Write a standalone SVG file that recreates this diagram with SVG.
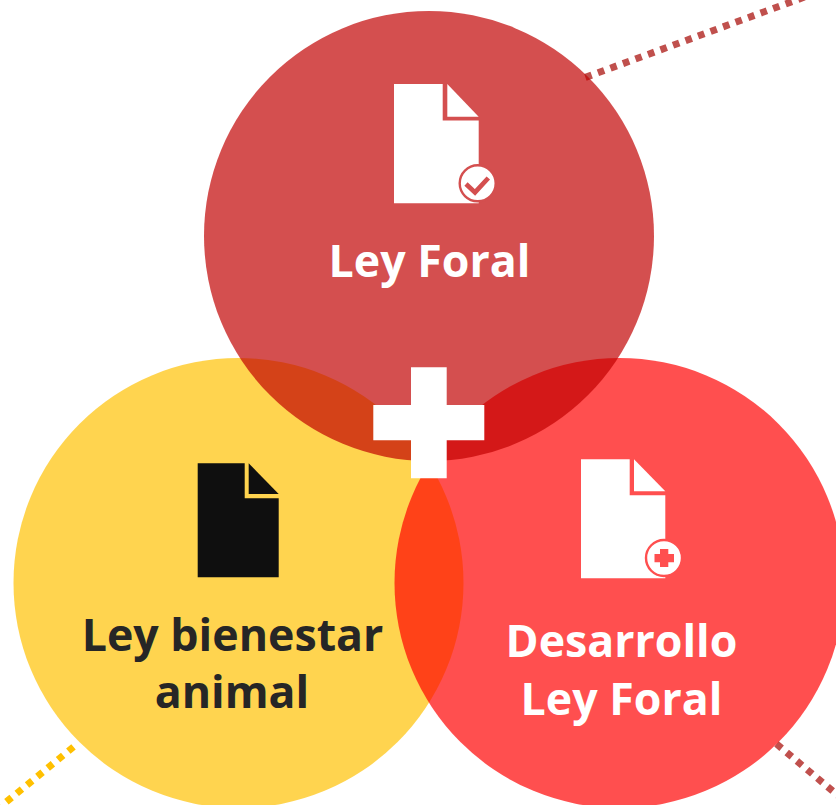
<svg xmlns="http://www.w3.org/2000/svg" width="836" height="805" viewBox="0 0 836 805">
<style>
.dot{fill:none;stroke-width:7;stroke-dasharray:6.7 6.63}
.c{opacity:.69}
.t{font-family:"Open Sans","Liberation Sans",sans-serif;font-weight:700;font-size:44.7px;text-anchor:middle}
.w{fill:#fff}
.k{fill:#262626}
</style>
<rect width="836" height="805" fill="#fff"/>
<g id="connectors">
<path class="dot" stroke="#C0504D" d="M585.4 77.4L810 -5"/>
<path class="dot" stroke="#FFC000" d="M73.5 746.9L-6 812"/>
<path class="dot" stroke="#C0504D" d="M776.5 743.9L850 805.5"/>
</g>
<g id="node-bienestar">
<circle class="c" cx="238.5" cy="583" r="225" fill="#FFC000"/>
</g>
<g id="node-desarrollo">
<circle class="c" cx="619.5" cy="583" r="225" fill="#FF0000"/>
</g>
<g id="node-ley-foral">
<circle class="c" cx="429" cy="236" r="225" fill="#C00000"/>
<path class="w" d="M394 84H442.7V120.5H478.7V203.3H394Z"/>
<path class="w" d="M447.3 84L478.7 116.7H447.3Z"/>
<circle cx="477.7" cy="183.3" r="18" fill="#fff" stroke="#D44F4F" stroke-width="2.4"/>
<path d="M466 184L475 192.4L488.3 178" fill="none" stroke="#D44F4F" stroke-width="4.7"/>
<text class="t w" x="429.5" y="277">Ley Foral</text>
</g>
<g id="node-bienestar-content">
<path fill="#0F0F0F" d="M197.7 463.3H244.7V498.3H278.7V577.3H197.7Z"/>
<path fill="#0F0F0F" d="M248.7 463.3L278.7 494H248.7Z"/>
<text class="t k" x="232.5" y="651">Ley bienestar</text>
<text class="t k" x="232" y="708">animal</text>
</g>
<g id="node-desarrollo-content">
<path class="w" d="M581 459.3H629.7V495.3H665.3V578.3H581Z"/>
<path class="w" d="M634 459.3L665.3 491.3H634Z"/>
<circle cx="664" cy="558" r="18" fill="#fff" stroke="#FF4F4F" stroke-width="2.4"/>
<path fill="#FF4F4F" d="M660 549H668.3V554H674V562.3H668.3V567H660V562.3H654.5V554H660Z"/>
<text class="t w" x="621.5" y="657">Desarrollo</text>
<text class="t w" x="621.5" y="715">Ley Foral</text>
</g>
<g id="plus">
<path class="w" d="M411 367.3H446.7V405H484.3V440.3H446.7V478.3H411V440.3H373.3V405H411Z"/>
</g>
</svg>
